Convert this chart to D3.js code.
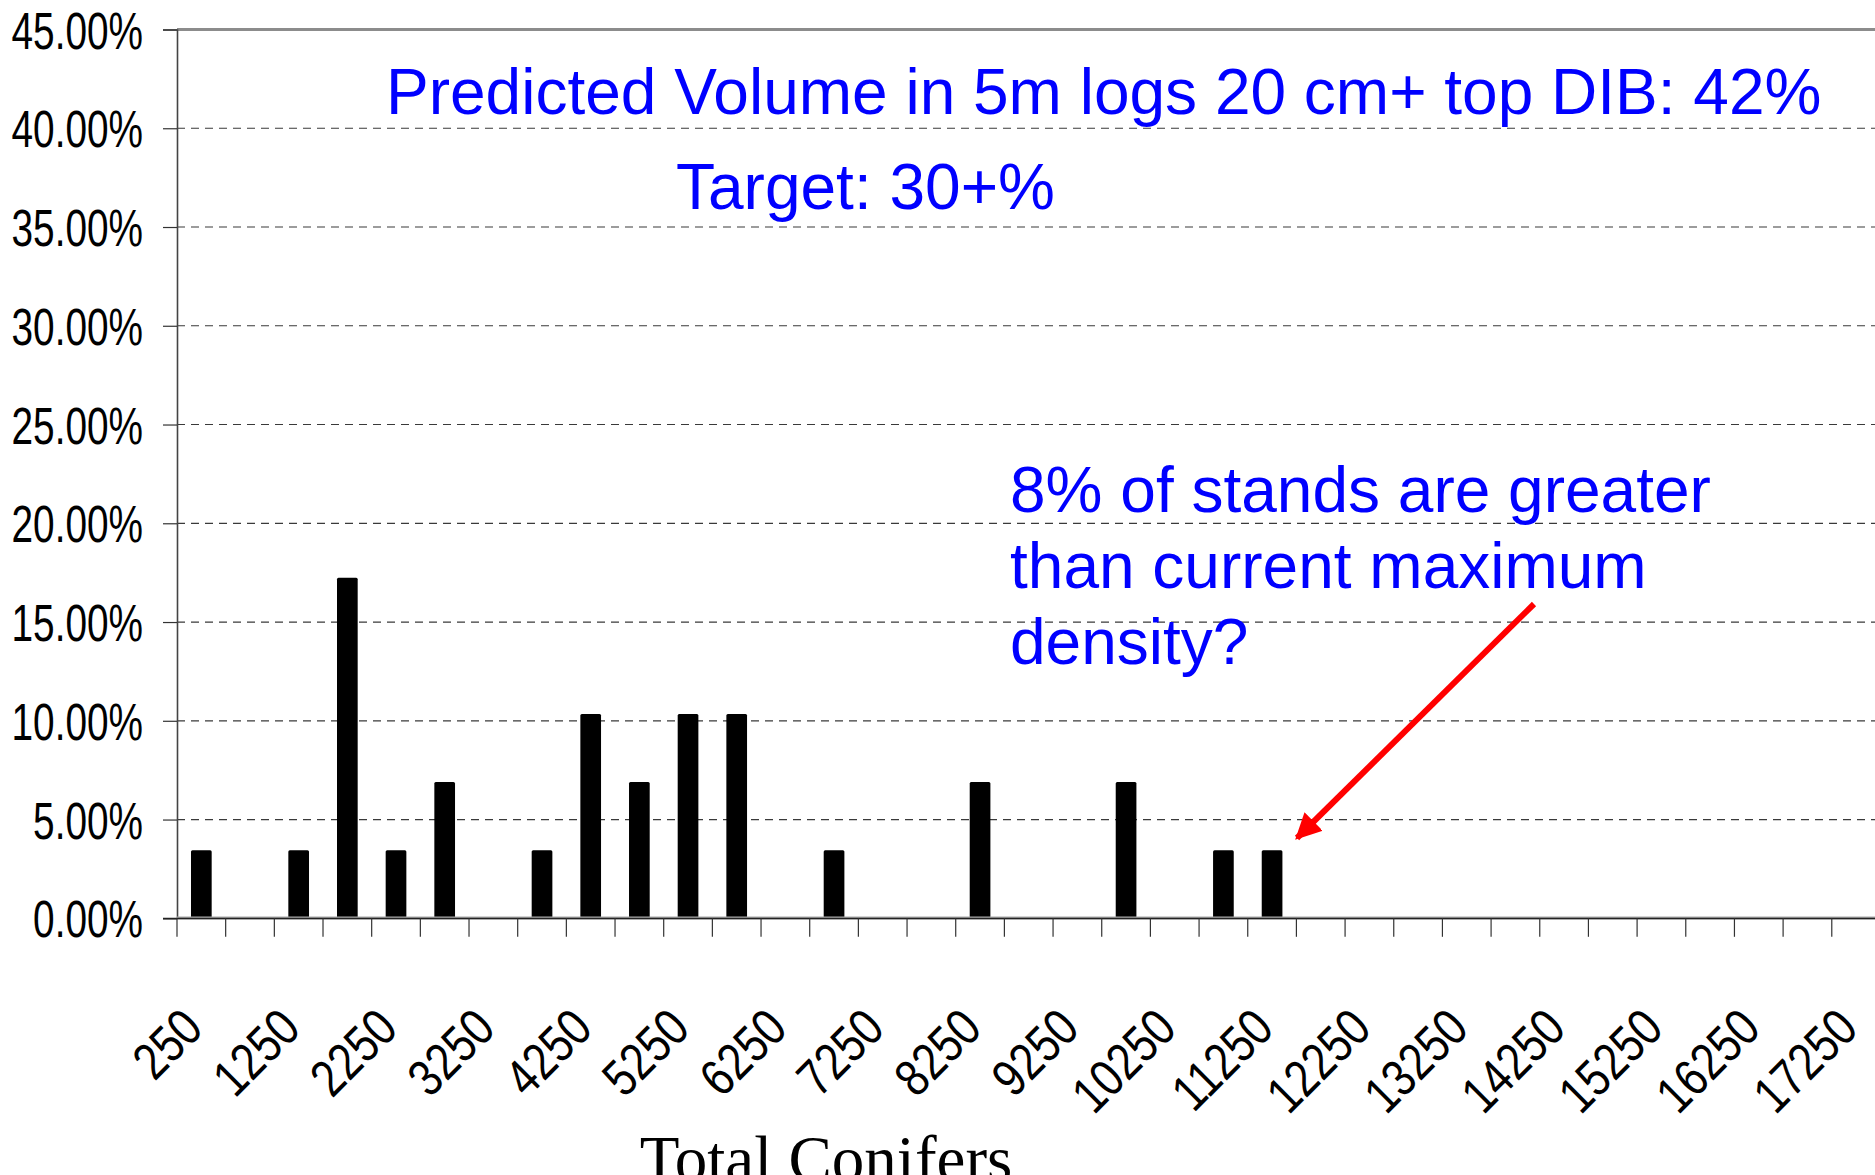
<!DOCTYPE html>
<html>
<head>
<meta charset="utf-8">
<script src="https://cdn.jsdelivr.net/npm/d3@7"></script>
<style>
  body { margin: 0; background: #fff; }
  svg { display: block; }
</style>
</head>
<body>
<script>
// bins of total conifers (stems/ha), share of stands in each bin
var categories = [250, 750, 1250, 1750, 2250, 2750, 3250, 3750, 4250, 4750, 5250, 5750,
  6250, 6750, 7250, 7750, 8250, 8750, 9250, 9750, 10250, 10750, 11250, 11750,
  12250, 12750, 13250, 13750, 14250, 14750, 15250, 15750, 16250, 16750, 17250];
var shares = [3.45, 0, 3.45, 17.24, 3.45, 6.90, 0, 3.45, 10.34, 6.90, 10.34, 10.34,
  0, 3.45, 0, 0, 6.90, 0, 0, 6.90, 0, 3.45, 3.45, 0,
  0, 0, 0, 0, 0, 0, 0, 0, 0, 0, 0];
var yTicks = [0, 5, 10, 15, 20, 25, 30, 35, 40, 45];
var xLabels = [250, 1250, 2250, 3250, 4250, 5250, 6250, 7250, 8250, 9250,
  10250, 11250, 12250, 13250, 14250, 15250, 16250, 17250];
var headline = ['Predicted Volume in 5m logs 20 cm+ top DIB: 42%', 'Target: 30+%'];
var note = ['8% of stands are greater', 'than current maximum', 'density?'];
var xTitle = 'Total Conifers';

var W = 1875, H = 1175;
var plotLeft = 177, plotTop = 29.5, plotBottom = 918.3;
var step = 48.67;

var svg = d3.select('body')
  .append('svg')
    .attr('width', W)
    .attr('height', H);

var x = d3.scaleBand()
    .domain(categories)
    .range([plotLeft, plotLeft + step * categories.length])
    .padding(0);

var y = d3.scaleLinear()
    .domain([0, 45])
    .range([plotBottom, plotTop]);

var tickFont = 'Liberation Sans, Arial, sans-serif';

// squeeze labels horizontally, the source uses a narrow face
var squeeze = function (sel, k) {
  sel.each(function () {
    var w = this.getComputedTextLength();
    d3.select(this)
        .attr('textLength', w * k)
        .attr('lengthAdjust', 'spacingAndGlyphs');
  });
};

//// grid

svg.append('g')
  .selectAll('line')
  .data(yTicks.filter(function (d) { return d > 0 && d < 45; }))
  .join('line')
      .attr('x1', plotLeft)
      .attr('x2', W)
      .attr('y1', function (d) { return y(d); })
      .attr('y2', function (d) { return y(d); })
      .attr('stroke', '#3a3a3a')
      .attr('stroke-width', 1.2)
      .attr('stroke-dasharray', '8,6');

svg.append('line')
    .attr('x1', plotLeft)
    .attr('x2', W)
    .attr('y1', y(45))
    .attr('y2', y(45))
    .attr('stroke', '#8c8c8c')
    .attr('stroke-width', 3);

//// bars

svg.append('g')
  .selectAll('rect')
  .data(categories.map(function (c, i) { return { cat: c, v: shares[i] }; })
    .filter(function (d) { return d.v > 0; }))
  .join('rect')
      .attr('x', function (d) { return x(d.cat) + x.bandwidth() * 0.2875; })
      .attr('width', x.bandwidth() * 0.425)
      .attr('y', function (d) { return y(d.v); })
      .attr('height', function (d) { return y(0) - y(d.v); })
      .attr('rx', 1.5)
      .attr('fill', '#000');

//// y axis

var yAxis = svg.append('g')
    .attr('transform', 'translate(' + plotLeft + ',0)')
    .call(d3.axisLeft(y)
      .tickValues(yTicks)
      .tickSize(14)
      .tickPadding(20)
      .tickFormat(function (d) { return d.toFixed(2) + '%'; }));

yAxis.select('.domain')
    .attr('stroke', '#444')
    .attr('stroke-width', 1.6);
yAxis.selectAll('.tick line')
    .attr('stroke', '#333')
    .attr('stroke-width', 1.2);
yAxis.selectAll('.tick text')
    .attr('font-family', tickFont)
    .attr('font-size', 51.7)
    .attr('fill', '#000')
    .attr('dy', '0.36em')
    .call(squeeze, 0.75);

//// x axis

svg.append('line')
    .attr('x1', plotLeft)
    .attr('x2', W)
    .attr('y1', y(0))
    .attr('y2', y(0))
    .attr('stroke', '#aaa')
    .attr('stroke-width', 3.5);
svg.append('line')
    .attr('x1', plotLeft - 14)
    .attr('x2', W)
    .attr('y1', y(0))
    .attr('y2', y(0))
    .attr('stroke', '#222')
    .attr('stroke-width', 1.2);

svg.append('g')
  .selectAll('line')
  .data(categories)
  .join('line')
      .attr('x1', function (d) { return x(d); })
      .attr('x2', function (d) { return x(d); })
      .attr('y1', y(0))
      .attr('y2', y(0) + 18.5)
      .attr('stroke', '#333')
      .attr('stroke-width', 1.2);

svg.append('g')
  .selectAll('text')
  .data(xLabels)
  .join('text')
      .attr('transform', function (d) {
        return 'translate(' + (x(d) + x.bandwidth() / 2 + 4) + ',' + 1031 + ') rotate(-45)';
      })
      .attr('text-anchor', 'end')
      .attr('font-family', tickFont)
      .attr('font-size', 52)
      .attr('fill', '#000')
      .text(function (d) { return d; })
      .call(squeeze, 0.83);

svg.append('text')
    .attr('x', 826)
    .attr('y', 1181)
    .attr('text-anchor', 'middle')
    .attr('font-family', 'Liberation Serif, Times New Roman, serif')
    .attr('font-size', 65)
    .attr('fill', '#000')
    .text(xTitle);

//// annotations

var blue = '#0000ff';

svg.append('text')
    .attr('x', 386)
    .attr('y', 113.6)
    .attr('font-family', tickFont)
    .attr('font-size', 64)
    .attr('fill', blue)
    .text(headline[0]);

svg.append('text')
    .attr('x', 676)
    .attr('y', 209)
    .attr('font-family', tickFont)
    .attr('font-size', 64)
    .attr('fill', blue)
    .text(headline[1]);

svg.append('g')
  .selectAll('text')
  .data(note)
  .join('text')
      .attr('x', 1010)
      .attr('y', function (d, i) { return 512 + i * 76; })
      .attr('font-family', tickFont)
      .attr('font-size', 64)
      .attr('fill', blue)
      .text(function (d) { return d; });

// red arrow pointing at the last bars
svg.append('defs')
  .append('marker')
      .attr('id', 'head')
      .attr('viewBox', '0 0 10 10')
      .attr('refX', 9)
      .attr('refY', 5)
      .attr('markerUnits', 'userSpaceOnUse')
      .attr('markerWidth', 26)
      .attr('markerHeight', 26)
      .attr('orient', 'auto')
    .append('path')
      .attr('d', 'M0,0L10,5L0,10z')
      .attr('fill', '#ff0000');

svg.append('line')
    .attr('x1', 1534)
    .attr('y1', 604)
    .attr('x2', 1297)
    .attr('y2', 838)
    .attr('stroke', '#ff0000')
    .attr('stroke-width', 6)
    .attr('marker-end', 'url(#head)');
</script>
</body>
</html>
